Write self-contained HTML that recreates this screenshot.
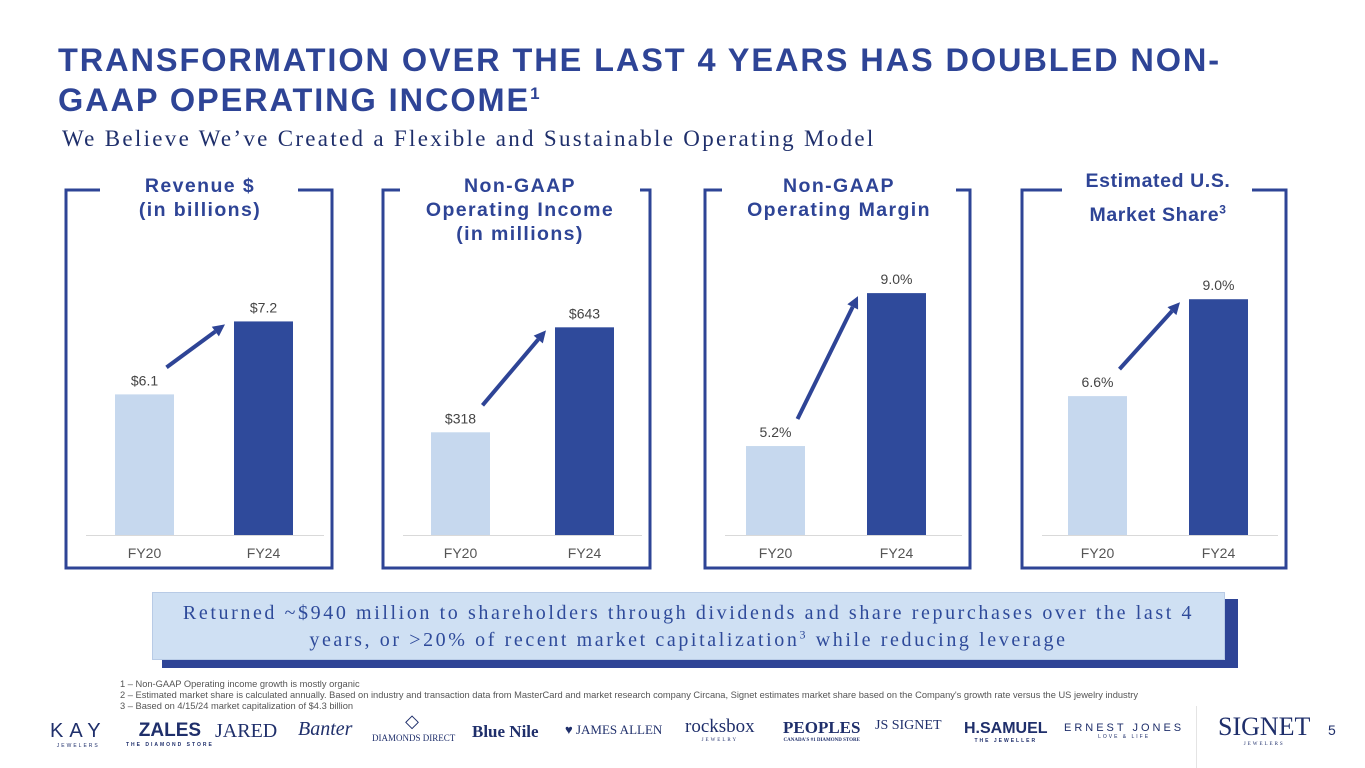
<!DOCTYPE html>
<html><head><meta charset="utf-8">
<style>
html,body{margin:0;padding:0;background:#fff;}
body{width:1365px;height:768px;position:relative;overflow:hidden;font-family:"Liberation Sans",sans-serif;}
.abs{position:absolute;}
sup{line-height:0;}
#title{left:58px;top:40px;font-size:32.5px;font-weight:bold;color:#2e4496;line-height:40px;letter-spacing:1.9px;white-space:nowrap;}
#title sup{font-size:17px;}
#subtitle{left:62px;top:126px;font-family:"Liberation Serif",serif;font-size:23px;color:#1f2f6b;letter-spacing:2.3px;white-space:nowrap;}
.ptitle{position:absolute;text-align:center;font-weight:bold;color:#2e4496;font-size:19.5px;line-height:24px;background:#fff;padding:0 4px;letter-spacing:1.4px;white-space:nowrap;}
#callout-shadow{left:162px;top:599px;width:1076px;height:69px;background:#2e4496;}
#callout{left:152px;top:592px;width:1073px;height:68px;background:#cfe0f3;border:1px solid #b8cbe6;text-align:center;font-family:"Liberation Serif",serif;font-size:20px;color:#2e4a9a;line-height:27px;padding-top:7px;box-sizing:border-box;letter-spacing:2.6px;white-space:nowrap;}
#callout sup{font-size:12px;}
#notes{left:120px;top:679px;font-size:9.3px;color:#555;line-height:11px;white-space:nowrap;}
.logo{position:absolute;color:#1f2f6b;text-align:center;white-space:nowrap;}
.logo small{display:block;font-size:5px;letter-spacing:2px;}
</style></head><body>
<div id="title" class="abs">TRANSFORMATION OVER THE LAST 4 YEARS HAS DOUBLED NON-<br>GAAP OPERATING INCOME<sup>1</sup></div>
<div id="subtitle" class="abs">We Believe We’ve Created a Flexible and Sustainable Operating Model</div>

<svg id="charts" class="abs" style="left:0;top:0" width="1365" height="590"></svg>

<div class="ptitle" style="left:102px;top:174px;width:188px">Revenue $<br>(in billions)</div>
<div class="ptitle" style="left:400px;top:174px;width:232px">Non-GAAP<br>Operating Income<br>(in millions)</div>
<div class="ptitle" style="left:722px;top:174px;width:226px">Non-GAAP<br>Operating Margin</div>
<div class="ptitle" style="left:1064px;top:164px;width:180px;line-height:34px;letter-spacing:0.6px">Estimated U.S.<br>Market Share<sup style="font-size:12px">3</sup></div>

<div id="callout-shadow" class="abs"></div>
<div id="callout" class="abs">Returned ~$940 million to shareholders through dividends and share repurchases over the last 4<br>years, or &gt;20% of recent market capitalization<sup>3</sup> while reducing leverage</div>

<div id="notes" class="abs">1 – Non-GAAP Operating income growth is mostly organic<br>2 – Estimated market share is calculated annually. Based on industry and transaction data from MasterCard and market research company Circana, Signet estimates market share based on the Company's growth rate versus the US jewelry industry<br>3 – Based on 4/15/24 market capitalization of $4.3 billion</div>

<div class="logo" style="left:50px;top:720px;font-size:20px;letter-spacing:6px">KAY<small>JEWELERS</small></div>
<div class="logo" style="left:126px;top:720px;font-size:19px;font-weight:bold">ZALES<small>THE DIAMOND STORE</small></div>
<div class="logo" style="left:215px;top:720px;font-family:'Liberation Serif',serif;font-size:20px">JARED</div>
<div class="logo" style="left:298px;top:718px;font-family:'Liberation Serif',serif;font-size:20px;font-style:italic">Banter</div>
<div class="logo" style="left:372px;top:714px;width:80px;font-family:'Liberation Serif',serif;font-size:9px;line-height:14px"><span style="font-size:18px">◇</span><br>DIAMONDS DIRECT</div>
<div class="logo" style="left:472px;top:722px;font-family:'Liberation Serif',serif;font-size:17px;font-weight:bold">Blue Nile</div>
<div class="logo" style="left:565px;top:722px;font-family:'Liberation Serif',serif;font-size:13px">♥ JAMES ALLEN</div>
<div class="logo" style="left:685px;top:716px;font-family:'Liberation Serif',serif;font-size:19px">rocksbox<small>JEWELRY</small></div>
<div class="logo" style="left:783px;top:718px;font-family:'Liberation Serif',serif;font-size:17px;font-weight:bold">PEOPLES<small style="letter-spacing:0">CANADA'S #1 DIAMOND STORE</small></div>
<div class="logo" style="left:875px;top:718px;font-family:'Liberation Serif',serif;font-size:14px">JS SIGNET</div>
<div class="logo" style="left:964px;top:720px;font-size:16px;font-weight:bold">H.SAMUEL<small>THE JEWELLER</small></div>
<div class="logo" style="left:1064px;top:722px;font-size:11px;letter-spacing:3px">ERNEST JONES<small>LOVE &amp; LIFE</small></div>
<div class="abs" style="left:1196px;top:706px;width:1px;height:62px;background:#e4e4e4"></div>
<div class="logo" style="left:1218px;top:712px;font-family:'Liberation Serif',serif;font-size:26px">SIGNET<small>JEWELERS</small></div>
<div class="logo" style="left:1328px;top:722px;font-size:14px">5</div>

<script>
const categories = ["FY20", "FY24"];
const revenueValues = [6.1, 7.2];
const revenueLabels = ["$6.1", "$7.2"];
const incomeValues = [318, 643];
const incomeLabels = ["$318", "$643"];
const marginValues = [5.2, 9.0];
const marginLabels = ["5.2%", "9.0%"];
const shareValues = [6.6, 9.0];
const shareLabels = ["6.6%", "9.0%"];
const revenueDomain = [3.98, 7.9];
const incomeDomain = [0, 805];
const marginDomain = [2.99, 9.45];
const shareDomain = [3.16, 9.6];

const NS = "http://www.w3.org/2000/svg";
const svg = document.getElementById("charts");
const BASE = 535, PH = 260;
function mk(tag, attrs){const e=document.createElementNS(NS,tag);for(const k in attrs)e.setAttribute(k,attrs[k]);svg.appendChild(e);return e;}

const panels = [
  {name:"revenue", x0:66, x1:332, bx:[115,234], vals:revenueValues, labels:revenueLabels, dom:revenueDomain, gap:[100,298]},
  {name:"income", x0:383, x1:650, bx:[431,555], vals:incomeValues, labels:incomeLabels, dom:incomeDomain, gap:[402,628]},
  {name:"margin", x0:705, x1:970, bx:[746,867], vals:marginValues, labels:marginLabels, dom:marginDomain, gap:[724,940]},
  {name:"share", x0:1022, x1:1286, bx:[1068,1189], vals:shareValues, labels:shareLabels, dom:shareDomain, gap:[1062,1248]}
];
const BW = 59;
panels.forEach(p=>{
  const y = v => BASE - (v - p.dom[0])/(p.dom[1]-p.dom[0])*PH;
  let fr = mk("path",{d:`M${p.gap[0]},190 H${p.x0} V568 H${p.x1} V190 H${p.gap[1]}`,fill:"none",stroke:"#2e4496","stroke-width":3});
  
  
  let ax = mk("line",{x1:p.x0+20,x2:p.x1-8,y1:BASE+0.5,y2:BASE+0.5,stroke:"#d9d9d9","stroke-width":1});
  
  
  const tops=[];
  p.vals.forEach((v,i)=>{
    const t=y(v); tops.push(t);
    let r = mk("rect",{x:p.bx[i],y:t,width:BW,height:BASE-t,fill:i==0?"#c6d8ee":"#2f4a9b"});
    
    
    let lb = mk("text",{x:p.bx[i]+BW/2,y:t-9,"text-anchor":"middle","font-size":14,fill:"#444","font-family":"Liberation Sans, sans-serif"});
    lb.textContent=p.labels[i];
    
    
    let cl = mk("text",{x:p.bx[i]+BW/2,y:558,"text-anchor":"middle","font-size":14,fill:"#555","font-family":"Liberation Sans, sans-serif"});
    cl.textContent=categories[i];
    
    
  });
  const sx=p.bx[0]+BW/2+22, sy=tops[0]-27, ex=p.bx[1]-9, ey=tops[1]+3;
  const ang=Math.atan2(ey-sy,ex-sx), L=12, W=6;
  const bx=ex-L*Math.cos(ang), by=ey-L*Math.sin(ang);
  let ln = mk("line",{x1:sx,y1:sy,x2:bx,y2:by,stroke:"#2e4496","stroke-width":4});
  
  
  let hd = mk("polygon",{points:`${ex},${ey} ${bx+W*Math.sin(ang)},${by-W*Math.cos(ang)} ${bx-W*Math.sin(ang)},${by+W*Math.cos(ang)}`,fill:"#2e4496"});
  
  
});
</script>
</body></html>
